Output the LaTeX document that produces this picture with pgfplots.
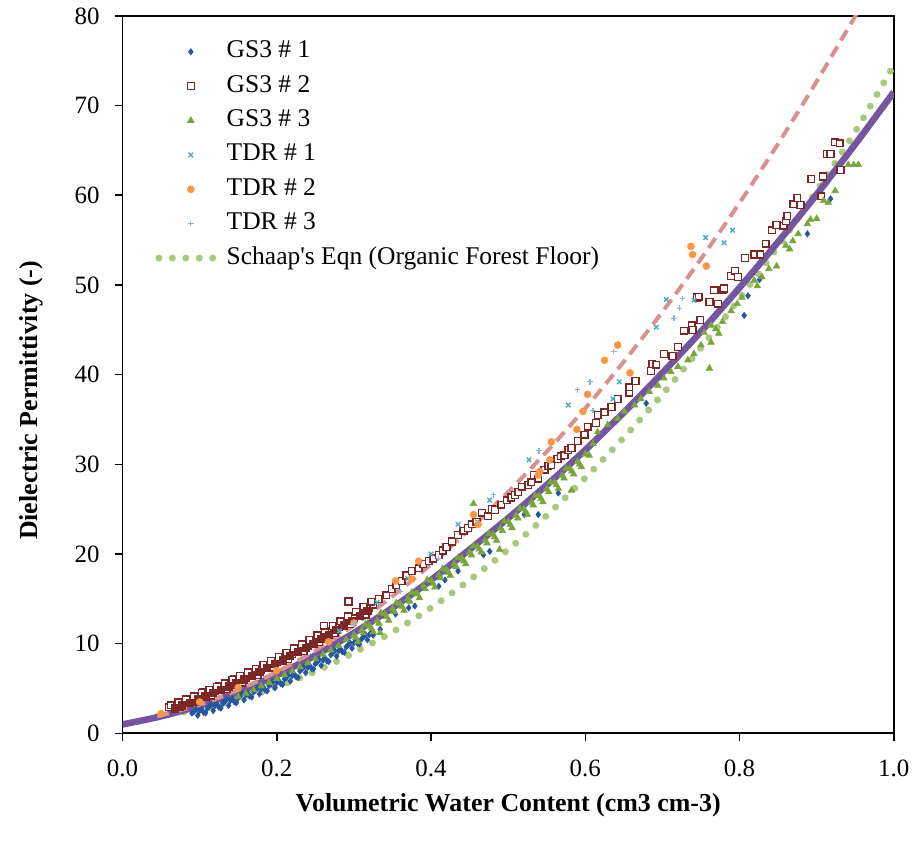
\documentclass[border=0pt]{standalone}
\usepackage{pgfplots}
\pgfplotsset{compat=1.18}
\usepackage{fontspec}
\setmainfont{Liberation Serif}
\definecolor{gsone}{RGB}{37,86,160}
\definecolor{gstwo}{RGB}{125,38,38}
\definecolor{gsthree}{RGB}{120,165,60}
\definecolor{tdrone}{RGB}{75,172,198}
\definecolor{tdrtwo}{RGB}{247,150,70}
\definecolor{tdrthree}{RGB}{149,179,215}
\definecolor{schaap}{RGB}{170,200,125}
\definecolor{fitpurple}{RGB}{115,85,160}
\definecolor{fitpink}{RGB}{217,145,143}
\pgfplotsset{
  markleg/.style={legend image code/.code={\path[draw=none,fill=none] (0pt,-3pt) rectangle (30pt,3pt); \draw[##1] plot coordinates {(16pt,0pt)};}},
  schaapleg/.style={legend image code/.code={\path[draw=none,fill=none] (0pt,-3pt) rectangle (30pt,3pt); \draw[##1] (0pt,0pt) -- (27.2pt,0pt);}},
}
\begin{document}
\begin{tikzpicture}
\begin{axis}[
  name=ax,
  scale only axis,
  width=387pt, height=360pt,
  xmin=0, xmax=1, ymin=0, ymax=80,
  xtick={0,0.2,0.4,0.6,0.8,1.0},
  ytick={0,10,20,30,40,50,60,70,80},
  /pgf/number format/assume math mode=true,
  tick label style={font=\fontsize{12.5}{15}\selectfont},
  xticklabel style={yshift=-6pt, /pgf/number format/fixed, /pgf/number format/fixed zerofill, /pgf/number format/precision=1},
  yticklabel style={xshift=-4pt},
  xtick pos=bottom, ytick pos=left,
  tick align=outside,
  major tick length=4pt,
  tick style={black, line width=0.8pt},
  axis line style={black, line width=0.9pt},
  xlabel={Volumetric Water Content (cm3 cm-3)},
  ylabel={Dielectric Permittivity (-)},
  label style={font=\bfseries\fontsize{13}{15}\selectfont},
  xlabel style={at={(axis description cs:0.5,0)}, anchor=center, yshift=-36pt},
  ylabel style={at={(axis description cs:-0.118,0.464)}, anchor=center},
  legend cell align=left,
  legend style={draw=none, fill=none, inner sep=0pt, outer sep=0pt,
    at={(rel axis cs:0,1)}, anchor=north west, xshift=16.5pt, yshift=-12.5pt,
    column sep=4pt, row sep=6.25pt,
    nodes={inner sep=0pt, text height=8.5pt, text depth=2.5pt},
    font=\fontsize{12.8}{15}\selectfont},
  markleg,
]
% GS3 #1
\addplot[only marks, mark=diamond*, mark size=1.5pt, color=gsone, mark options={line width=0.4pt}] table {
0.09 2.26
0.10 2.52
0.11 2.79
0.12 3.08
0.13 3.37
0.14 3.67
0.15 3.98
0.16 4.30
0.17 4.63
0.18 4.97
0.19 5.32
0.20 5.68
0.21 6.05
0.22 6.43
0.23 6.96
0.24 7.36
0.25 7.76
0.26 8.18
0.27 8.75
0.28 9.19
0.29 9.63
0.30 10.08
0.31 10.54
0.32 11.01
0.095 2.69
0.105 2.36
0.115 3.20
0.125 2.90
0.135 3.77
0.145 3.52
0.155 4.40
0.165 4.15
0.175 5.06
0.185 4.84
0.195 5.75
0.205 5.55
0.215 6.50
0.225 6.30
0.235 7.41
0.245 7.25
0.255 8.23
0.265 8.07
0.275 9.22
0.285 9.10
0.295 10.10
0.305 10.00
0.315 11.03
0.325 10.95
0.0925 2.42
0.1025 2.69
0.1125 2.96
0.1225 3.25
0.1325 3.54
0.1425 3.84
0.1525 4.15
0.1625 4.48
0.1725 4.81
0.1825 5.15
0.1925 5.50
0.2025 5.87
0.2125 6.24
0.2225 6.62
0.2325 7.16
0.2425 7.56
0.2525 7.97
0.2625 8.39
0.2725 8.97
0.2825 9.41
0.2925 9.85
0.3025 10.30
0.3125 10.77
0.3225 11.24
0.0975 2.00
0.1075 2.26
0.1175 2.53
0.1275 2.82
0.1375 3.11
0.1475 3.41
0.1575 3.73
0.1675 4.05
0.1775 4.39
0.1875 4.73
0.1975 5.09
0.2075 5.46
0.2175 5.83
0.2275 6.22
0.2375 6.76
0.2475 7.17
0.2575 7.58
0.2675 8.01
0.2775 8.60
0.2875 9.04
0.2975 9.49
0.3075 9.96
0.3175 10.43
0.334 11.6
0.354 13.3
0.371 14.0
0.379 14.2
0.410 16.4
0.418 17.1
0.435 18.1
0.468 19.9
0.476 20.3
0.521 24.4
0.539 24.4
0.565 26.8
0.679 36.8
0.806 46.6
0.811 48.8
0.826 50.6
0.888 55.7
0.918 59.6
};
\addlegendentry{GS3 \# 1}
% GS3 #2
\addplot[only marks, mark=square*, mark size=1.7pt, color=gstwo, mark options={fill=white, line width=0.7pt}] table {
0.06 2.90
0.07 3.20
0.08 3.50
0.09 3.80
0.10 4.10
0.11 4.40
0.12 4.75
0.13 5.10
0.14 5.45
0.15 5.85
0.16 6.21
0.17 6.63
0.18 7.05
0.19 7.49
0.20 7.93
0.21 8.39
0.22 8.85
0.23 9.32
0.24 9.80
0.25 10.29
0.26 10.79
0.27 11.30
0.28 11.82
0.29 12.35
0.30 12.88
0.31 13.43
0.32 13.98
0.065 3.15
0.075 2.95
0.085 3.85
0.095 3.55
0.105 4.55
0.115 4.20
0.125 5.30
0.135 4.95
0.145 6.00
0.155 5.65
0.165 6.80
0.175 6.50
0.185 7.65
0.195 7.35
0.205 8.55
0.215 8.25
0.225 9.45
0.235 9.20
0.245 10.40
0.255 10.15
0.265 11.40
0.275 11.15
0.285 12.45
0.295 12.20
0.305 13.50
0.315 13.25
0.325 14.35
0.0625 3.13
0.0725 3.46
0.0825 3.79
0.0925 4.14
0.1025 4.48
0.1125 4.84
0.1225 5.21
0.1325 5.59
0.1425 5.98
0.1525 6.38
0.1625 6.79
0.1725 7.21
0.1825 7.64
0.1925 8.08
0.2025 8.53
0.2125 8.99
0.2225 9.46
0.2325 9.94
0.2425 10.43
0.2525 10.93
0.2625 11.44
0.2725 11.96
0.2825 12.49
0.2925 13.03
0.3025 13.57
0.3125 14.13
0.3225 14.69
0.261 12.0
0.293 14.7
0.332 15.0
0.342 15.4
0.349 16.1
0.355 16.5
0.362 17.0
0.368 17.6
0.375 18.1
0.384 18.4
0.390 18.9
0.397 19.2
0.403 19.5
0.410 19.9
0.415 20.4
0.420 20.8
0.427 21.4
0.435 22.1
0.442 22.6
0.448 22.9
0.453 23.3
0.459 23.6
0.466 24.6
0.474 24.2
0.479 25.0
0.483 24.9
0.491 25.5
0.498 26.0
0.504 26.3
0.509 26.6
0.513 26.9
0.518 27.5
0.526 27.7
0.530 28.0
0.533 28.8
0.539 28.4
0.547 29.4
0.552 29.8
0.556 29.9
0.564 30.6
0.568 30.9
0.573 31.0
0.578 31.6
0.582 31.8
0.590 32.6
0.599 33.3
0.603 34.2
0.614 34.6
0.616 35.5
0.625 35.8
0.634 36.4
0.642 37.3
0.657 38.0
0.657 38.6
0.665 39.3
0.685 40.4
0.687 41.2
0.692 41.1
0.702 42.3
0.713 42.1
0.720 43.1
0.728 44.9
0.738 45.5
0.739 45.0
0.745 48.6
0.747 48.7
0.749 46.1
0.761 48.1
0.767 49.4
0.772 47.9
0.778 49.4
0.780 49.6
0.789 51.0
0.794 51.6
0.798 50.9
0.807 53.0
0.819 53.4
0.827 53.4
0.834 54.6
0.842 56.1
0.848 56.7
0.857 56.6
0.860 57.1
0.862 57.7
0.870 59.0
0.875 59.7
0.879 58.9
0.893 61.8
0.906 59.9
0.908 62.1
0.913 64.6
0.918 64.6
0.924 65.9
0.930 65.8
0.931 62.8
};
\addlegendentry{GS3 \# 2}
% GS3 #2, densest part of the cloud
\addplot[forget plot, only marks, mark=square*, mark size=1.7pt, color=gstwo, mark options={line width=0.7pt}] table {
0.0675 2.78
0.0775 3.11
0.0875 3.43
0.0975 3.78
0.1075 4.12
0.1175 4.48
0.1275 4.85
0.1375 5.23
0.1475 5.61
0.1575 6.01
0.1675 6.41
0.1775 6.83
0.1875 7.25
0.1975 7.69
0.2075 8.13
0.2175 8.59
0.2275 9.05
0.2375 9.52
0.2475 10.00
0.2575 10.49
0.2675 10.99
0.2775 11.50
0.2875 12.02
0.2975 12.55
0.3075 13.08
0.3175 13.63
};
% GS3 #3
\addplot[only marks, mark=triangle*, mark size=1.9pt, color=gsthree, mark options={line width=0.3pt}] table {
0.15 4.08
0.16 4.46
0.17 4.85
0.18 5.25
0.19 5.66
0.20 6.08
0.21 6.51
0.22 6.95
0.23 7.39
0.24 7.85
0.25 8.31
0.26 8.79
0.27 9.27
0.28 9.77
0.29 10.47
0.30 10.98
0.31 11.50
0.32 12.03
0.33 12.57
0.34 13.32
0.35 13.88
0.36 14.45
0.37 15.03
0.38 15.62
0.39 16.41
0.40 17.02
0.41 17.64
0.42 18.26
0.43 18.90
0.44 19.54
0.45 20.19
0.46 20.86
0.47 21.53
0.48 22.21
0.49 22.90
0.50 23.60
0.51 24.31
0.52 25.03
0.53 25.76
0.54 26.50
0.55 27.24
0.56 28.00
0.57 28.77
0.58 29.54
0.59 30.33
0.60 31.12
0.305 10.2
0.325 11.3
0.345 12.6
0.365 13.7
0.385 15.1
0.405 16.3
0.425 17.6
0.445 18.9
0.465 20.2
0.485 21.5
0.505 22.9
0.525 24.4
0.545 25.8
0.565 27.3
0.585 28.9
0.595 29.7
0.315 12.15
0.335 13.45
0.355 14.55
0.375 15.7
0.395 17.1
0.415 18.35
0.435 19.6
0.455 20.9
0.475 22.25
0.495 23.65
0.515 25.05
0.535 26.5
0.555 28.0
0.575 29.55
0.3025 10.67
0.3125 11.19
0.3225 11.72
0.3325 12.26
0.3425 13.01
0.3525 13.57
0.3625 14.14
0.3725 14.72
0.3825 15.51
0.3925 16.10
0.4025 16.71
0.4125 17.33
0.4225 17.95
0.4325 18.59
0.4425 19.23
0.4525 19.88
0.4625 20.55
0.4725 21.22
0.4825 21.90
0.4925 22.59
0.5025 23.29
0.5125 24.00
0.5225 24.72
0.5325 25.45
0.5425 26.19
0.5525 26.93
0.5625 27.69
0.5725 28.46
0.5825 29.23
0.5925 30.02
0.334 11.2
0.455 25.6
0.489 20.5
0.582 27.1
0.761 40.7
0.605 31.0
0.610 32.3
0.616 33.6
0.629 34.4
0.642 35.1
0.651 35.9
0.664 36.6
0.672 37.3
0.683 38.1
0.694 38.8
0.702 39.6
0.711 40.3
0.720 40.9
0.733 41.6
0.741 42.3
0.750 43.3
0.754 44.7
0.763 43.6
0.763 45.5
0.769 45.1
0.773 44.6
0.778 45.9
0.789 47.1
0.797 47.9
0.803 48.6
0.819 50.5
0.823 49.9
0.829 50.9
0.838 51.8
0.848 52.1
0.860 54.4
0.865 54.0
0.869 54.9
0.876 55.7
0.888 56.8
0.892 57.3
0.900 57.4
0.909 59.4
0.915 59.2
0.924 60.5
0.941 63.4
0.948 63.4
0.954 63.4
};
\addlegendentry{GS3 \# 3}
% TDR #1
\addplot[only marks, mark=x, mark size=1.6pt, color=tdrone, mark options={line width=0.7pt}] table {
0.281 11.4
0.330 14.6
0.370 17.3
0.400 20.0
0.435 23.3
0.460 23.6
0.476 26.0
0.527 30.5
0.578 36.6
0.636 37.3
0.644 39.2
0.692 45.3
0.705 48.4
0.741 48.3
0.756 55.3
0.780 54.7
0.791 56.1
};
\addlegendentry{TDR \# 1}
% TDR #2
\addplot[only marks, mark=*, mark size=1.8pt, color=tdrtwo, mark options={line width=0.2pt}] table {
0.050 2.2
0.100 3.5
0.150 5.1
0.200 7.0
0.267 10.2
0.300 12.3
0.354 17.0
0.375 17.2
0.384 19.2
0.455 24.4
0.461 23.3
0.539 28.8
0.541 29.2
0.554 30.5
0.556 32.5
0.589 33.9
0.597 35.9
0.603 37.8
0.625 41.6
0.642 43.3
0.658 40.2
0.737 54.3
0.739 53.4
0.757 52.1
};
\addlegendentry{TDR \# 2}
% TDR #3
\addplot[only marks, mark=+, mark size=1.4pt, color=tdrthree, mark options={line width=0.6pt}] table {
0.300 12.2
0.360 15.8
0.410 19.5
0.481 26.6
0.540 31.5
0.590 38.3
0.606 39.2
0.610 36.0
0.637 42.6
0.715 46.3
0.722 47.4
0.726 48.5
};
\addlegendentry{TDR \# 3}
% Schaap's equation
\addplot[color=schaap, line width=3.5pt, line cap=round, dash pattern=on 0pt off 6.75pt, smooth, schaapleg] table {
0.045 1.9
0.10 2.7
0.15 3.8
0.20 5.2
0.25 6.9
0.30 9.0
0.35 11.3
0.40 14.0
0.45 17.1
0.50 20.5
0.55 24.3
0.60 28.5
0.65 33.0
0.70 37.8
0.75 43.0
0.80 48.5
0.85 54.3
0.90 60.5
0.95 67.1
1.00 74.5
};
\addlegendentry{Schaap\textquotesingle s Eqn (Organic Forest Floor)}
% fitted curve (solid)
\addplot[forget plot, color=fitpurple, line width=3.3pt, smooth] table {
0.00 1.00
0.05 1.90
0.10 3.10
0.15 4.60
0.20 6.50
0.25 8.70
0.30 11.20
0.35 14.00
0.40 17.10
0.45 20.50
0.50 24.00
0.55 27.70
0.60 31.60
0.65 35.80
0.70 40.20
0.75 44.80
0.80 49.70
0.85 54.80
0.90 60.10
0.95 65.70
1.00 71.50
};
% fitted curve (dashed)
\addplot[forget plot, color=fitpink, line width=2pt, dash pattern=on 6pt off 3.5pt, smooth] table {
0.045 1.90
0.10 3.20
0.15 4.85
0.20 6.85
0.25 9.25
0.30 12.05
0.35 15.30
0.40 18.85
0.45 22.77
0.50 26.92
0.55 31.42
0.60 36.26
0.65 41.46
0.70 47.01
0.75 52.91
0.80 59.16
0.85 65.75
0.90 72.70
0.955 80.7
};
\end{axis}
\path ([xshift=-61.5pt,yshift=-57.5pt]ax.south west) rectangle ([xshift=9.5pt,yshift=8pt]ax.north east);
\end{tikzpicture}
\end{document}
